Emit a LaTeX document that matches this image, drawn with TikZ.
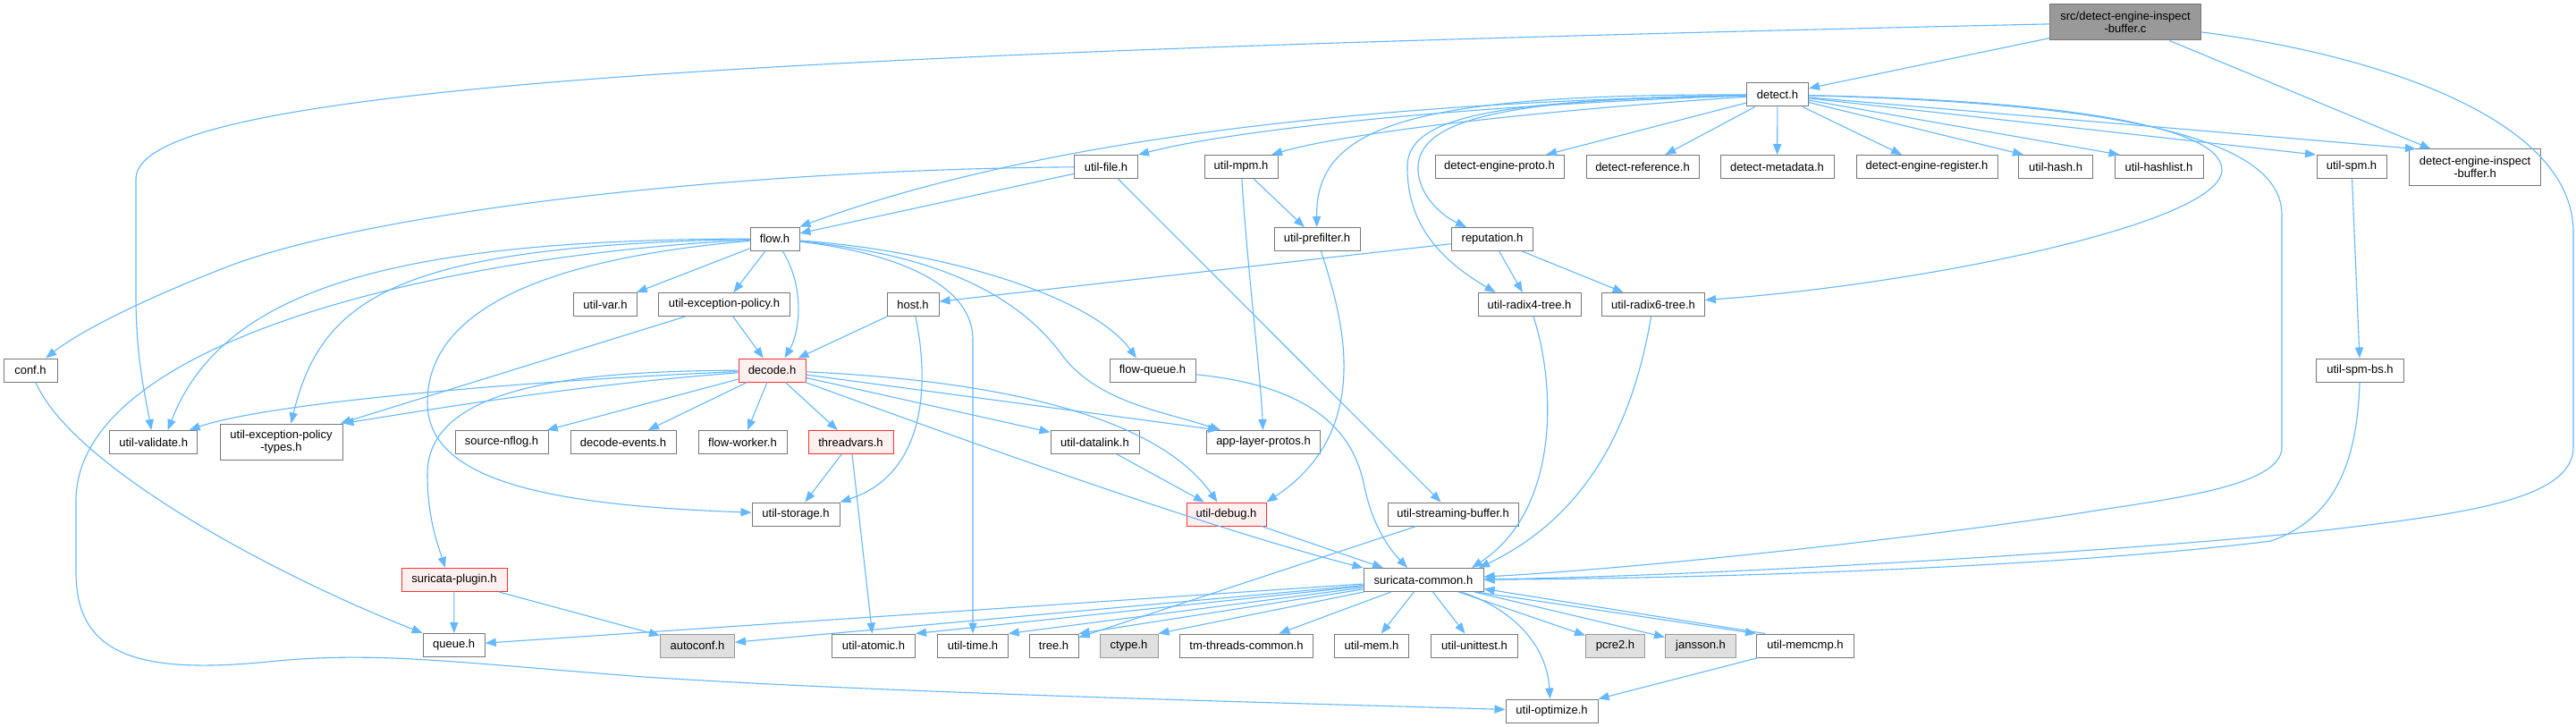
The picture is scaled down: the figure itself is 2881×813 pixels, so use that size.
\documentclass[tikz,border=0pt]{standalone}
\usepackage{fontspec}
\setmainfont{Liberation Sans}
\usetikzlibrary{arrows.meta}
\definecolor{edgec}{HTML}{63B8FF}
\definecolor{nbord}{HTML}{777777}
\definecolor{redfill}{HTML}{FFF0F0}
\definecolor{redbord}{HTML}{FF3030}
\definecolor{grayfill}{HTML}{E0E0E0}
\definecolor{graybord}{HTML}{999999}
\definecolor{srcfill}{HTML}{999999}
\begin{document}
\begin{tikzpicture}[x=0.5pt,y=-0.5pt,
  nb/.style={draw=nbord, fill=white, line width=0.5pt, minimum width=#1*0.5pt,
    minimum height=13pt, inner sep=0pt, text=black,
    font=\fontsize{6.5}{7}\selectfont, align=center},
  two/.style={minimum height=20pt},
  rednode/.style={draw=redbord, fill=redfill},
  graynode/.style={draw=graybord, fill=grayfill},
  e/.style={draw=edgec, line width=0.55pt, -{Triangle[length=6pt,width=4.6pt]}}]
\path[use as bounding box, fill=white] (0,0) rectangle (2881,813);

% ---- nodes ----
\node[nb=169, two, fill=srcfill] (src) at (2377,25) {src/detect-engine-inspect\\-buffer.c};
\node[nb=69] (detect) at (1988,106) {detect.h};
\node[nb=71] (utilfile) at (1237,186.5) {util-file.h};
\node[nb=82] (utilmpm) at (1388,186.5) {util-mpm.h};
\node[nb=144] (dep) at (1677,186.5) {detect-engine-proto.h};
\node[nb=126] (dref) at (1837,186.5) {detect-reference.h};
\node[nb=127] (dmeta) at (1987.5,186.5) {detect-metadata.h};
\node[nb=158] (dreg) at (2155,186.5) {detect-engine-register.h};
\node[nb=83] (hash) at (2299,186.5) {util-hash.h};
\node[nb=99] (hashlist) at (2414.5,186.5) {util-hashlist.h};
\node[nb=78] (spm) at (2630,186.5) {util-spm.h};
\node[nb=147, two] (dib) at (2768,187) {detect-engine-inspect\\-buffer.h};
\node[nb=55] (flow) at (866.5,267) {flow.h};
\node[nb=96] (prefilter) at (1473,267.5) {util-prefilter.h};
\node[nb=91] (reputation) at (1669,267.5) {reputation.h};
\node[nb=71] (utilvar) at (677,340.5) {util-var.h};
\node[nb=147] (uep) at (810,340.5) {util-exception-policy.h};
\node[nb=58] (host) at (1021,340.5) {host.h};
\node[nb=115] (radix4) at (1710.5,340.5) {util-radix4-tree.h};
\node[nb=115] (radix6) at (1849,340.5) {util-radix6-tree.h};
\node[nb=60] (conf) at (34,414) {conf.h};
\node[nb=75, rednode] (decode) at (863.5,414) {decode.h};
\node[nb=96] (flowqueue) at (1289,414) {flow-queue.h};
\node[nb=98] (spmbs) at (2639.5,414) {util-spm-bs.h};
\node[nb=98] (validate) at (171.7,494.5) {util-validate.h};
\node[nb=137, two] (ueptypes) at (314.5,494) {util-exception-policy\\-types.h};
\node[nb=104] (nflog) at (561,494.5) {source-nflog.h};
\node[nb=118] (devents) at (697,494.5) {decode-events.h};
\node[nb=99] (fworker) at (830.5,494.5) {flow-worker.h};
\node[nb=95, rednode] (threadvars) at (951.5,494.5) {threadvars.h};
\node[nb=99] (datalink) at (1224.5,494.5) {util-datalink.h};
\node[nb=127] (alp) at (1413,494.5) {app-layer-protos.h};
\node[nb=98] (storage) at (890,575) {util-storage.h};
\node[nb=89, rednode] (debug) at (1371.5,575) {util-debug.h};
\node[nb=146] (sbuf) at (1625,575) {util-streaming-buffer.h};
\node[nb=118, rednode] (plugin) at (508,648.5) {suricata-plugin.h};
\node[nb=134] (sc) at (1592,648.5) {suricata-common.h};
\node[nb=69] (queue) at (507.7,721.5) {queue.h};
\node[nb=83, graynode] (autoconf) at (780,722) {autoconf.h};
\node[nb=93] (atomic) at (977,722) {util-atomic.h};
\node[nb=78.5] (utime) at (1088,722) {util-time.h};
\node[nb=55] (tree) at (1178.5,722) {tree.h};
\node[nb=65, graynode] (ctype) at (1262.5,722) {ctype.h};
\node[nb=149] (tmtc) at (1394,722) {tm-threads-common.h};
\node[nb=83] (mem) at (1534,722) {util-mem.h};
\node[nb=97] (unittest) at (1649,722) {util-unittest.h};
\node[nb=66, graynode] (pcre) at (1806.5,722) {pcre2.h};
\node[nb=79, graynode] (jansson) at (1902,722) {jansson.h};
\node[nb=109] (memcmp) at (2019,722) {util-memcmp.h};
\node[nb=103] (optimize) at (1735.5,795) {util-optimize.h};

% ---- edges from src ----
\draw[e] (src) -- (detect);
\draw[e] (src) .. controls (800,60) and (152,100) .. (152,200) -- (152,330)
  .. controls (152,400) and (162,440) .. (validate);
\draw[e] (src) -- (dib);
\draw[e] (src) .. controls (2650,60) and (2878,130) .. (2878,260) -- (2878,500)
  .. controls (2878,560) and (2750,575) .. (2600,593)
  .. controls (2400,615) and (1900,645) .. (sc);

% ---- edges from detect.h ----
\draw[e] (detect) -- (dep);
\draw[e] (detect) -- (dref);
\draw[e] (detect) -- (dmeta);
\draw[e] (detect) -- (dreg);
\draw[e] (detect) -- ([xshift=-18pt]hash.north);
\draw[e] (detect) -- ([xshift=-22pt]hashlist.north);
\draw[e] (detect) -- ([xshift=-20pt]spm.north);
\draw[e] (detect) -- ([xshift=4pt]dib.north west);
\draw[e] (detect) .. controls (1700,125) and (1500,150) .. ([xshift=17pt]utilmpm.north);
\draw[e] (detect) .. controls (1700,115) and (1400,140) .. (utilfile.north east);
\draw[e] (detect) .. controls (1500,115) and (1150,160) .. (flow.north east);
\draw[e] (detect) .. controls (1580,105) and (1471,140) .. (prefilter);
\draw[e] (detect) .. controls (1700,110) and (1590,130) .. (1586,185)
  .. controls (1584,215) and (1610,240) .. (reputation);
\draw[e] (detect) .. controls (1700,112) and (1575,125) .. (1574,185)
  .. controls (1573,250) and (1610,290) .. ([xshift=-19pt]radix4.north);
\draw[e] (detect) .. controls (2300,112) and (2485,140) .. (2485,190)
  .. controls (2485,250) and (2150,318) .. ([yshift=2.5pt]radix6.east);
\draw[e] (detect) .. controls (2350,115) and (2552,150) .. (2552,240) -- (2552,500)
  .. controls (2552,540) and (2450,555) .. (2350,570)
  .. controls (2200,595) and (1850,635) .. (sc);

% ---- util-file.h, util-mpm.h ----
\draw[e] (utilfile) -- (flow);
\draw[e] (utilfile) .. controls (800,190) and (400,240) .. (250,300)
  .. controls (160,335) and (90,370) .. (conf);
\draw[e] (utilfile) -- (sbuf);
\draw[e] (utilmpm) -- (prefilter);
\draw[e] (utilmpm) .. controls (1395,300) and (1410,420) .. (alp);

% ---- prefilter, reputation, radix ----
\draw[e] (prefilter) .. controls (1500,350) and (1540,480) .. (debug.north east);
\draw[e] (reputation) -- (host);
\draw[e] (reputation) -- (radix4);
\draw[e] (reputation) -- (radix6);
\draw[e] (radix4) .. controls (1740,430) and (1745,570) .. ([xshift=27pt]sc.north);
\draw[e] (radix6) .. controls (1830,450) and (1790,570) .. ([xshift=31pt]sc.north);
\draw[e] (sbuf) -- (tree);

% ---- host.h ----
\draw[e] (host) -- (decode);
\draw[e] (host) .. controls (1040,430) and (1035,530) .. (storage.north east);

% ---- flow.h ----
\draw[e] (flow) -- (utilvar);
\draw[e] (flow) -- (uep);
\draw[e] (flow) .. controls (900,320) and (895,370) .. ([xshift=7pt]decode.north);
\draw[e] (flow) .. controls (1050,280) and (1220,330) .. ([xshift=-9pt]flowqueue.north);
\draw[e] (flow) .. controls (980,280) and (1088,310) .. (1088,380) -- (utime);
\draw[e] (flow) .. controls (1050,285) and (1140,330) .. (1190,400)
  .. controls (1230,450) and (1300,460) .. ([xshift=-24pt]alp.north);
\draw[e] (flow) .. controls (450,268) and (250,320) .. ([xshift=8pt]validate.north);
\draw[e] (flow) .. controls (450,275) and (360,330) .. ([xshift=5.5pt]ueptypes.north);
\draw[e] (flow) .. controls (500,285) and (85,380) .. (85,560) -- (85,640)
  .. controls (85,730) and (150,755) .. (300,740)
  .. controls (420,728) and (500,740) .. (720,757)
  .. controls (1000,775) and (1400,785) .. (optimize);
\draw[e] (flow) .. controls (600,290) and (478,350) .. (478,450)
  .. controls (478,540) and (620,565) .. (storage);

% ---- util-exception-policy.h ----
\draw[e] (uep) -- (decode);
\draw[e] (uep) -- (ueptypes);

% ---- decode.h ----
\draw[e] (decode) .. controls (600,425) and (300,450) .. ([xshift=20pt]validate.north);
\draw[e] (decode) .. controls (650,430) and (500,455) .. (ueptypes.north east);
\draw[e] (decode) .. controls (650,415) and (478,430) .. (478,530)
  .. controls (478,580) and (490,610) .. ([xshift=-5pt]plugin.north);
\draw[e] (decode) -- (nflog);
\draw[e] (decode) -- (devents);
\draw[e] (decode) -- (fworker);
\draw[e] (decode) -- (threadvars);
\draw[e] (decode) -- (datalink);
\draw[e] (decode) -- ([xshift=-25pt]alp.north);
\draw[e] (decode) .. controls (1100,425) and (1290,460) .. ([xshift=-5pt]debug.north);
\draw[e] (decode) .. controls (1100,500) and (1350,590) .. (sc.north west);

% ---- threadvars, datalink, flow-queue, debug ----
\draw[e] (threadvars) -- (storage);
\draw[e] (threadvars) -- (atomic);
\draw[e] (datalink) -- (debug);
\draw[e] (flowqueue) .. controls (1450,430) and (1510,470) .. (1525,540)
  .. controls (1535,590) and (1555,615) .. ([xshift=-9pt]sc.north);
\draw[e] (debug) -- ([xshift=-22.5pt]sc.north);

% ---- conf, plugin ----
\draw[e] (conf) .. controls (80,520) and (300,640) .. (queue.north west);
\draw[e] (plugin) -- (queue);
\draw[e] (plugin) -- (autoconf);

% ---- suricata-common.h ----
\draw[e] (sc) -- (queue);
\draw[e] (sc) -- (autoconf);
\draw[e] (sc) -- (atomic.north east);
\draw[e] (sc) -- (utime.north east);
\draw[e] (sc) -- (tree.north east);
\draw[e] (sc) -- (ctype.north east);
\draw[e] (sc) -- (tmtc);
\draw[e] (sc) -- (mem);
\draw[e] (sc) -- (unittest);
\draw[e] (sc) -- (pcre);
\draw[e] (sc) -- (jansson);
\draw[e] ([xshift=-4pt]sc.south east) -- (memcmp.north west);
\draw[e] (sc) .. controls (1690,680) and (1730,720) .. ([xshift=-1pt]optimize.north);

% ---- util-memcmp.h ----
\draw[e] ([xshift=5pt]memcmp.north west) -- ([yshift=-5pt]sc.east);
\draw[e] (memcmp) -- (optimize);

% ---- util-spm.h, util-spm-bs.h ----
\draw[e] (spm) -- (spmbs);
\draw[e] (spmbs) .. controls (2636,520) and (2610,580) .. (2540,605)
  .. controls (2300,635) and (1900,647) .. (sc);
\end{tikzpicture}
\end{document}
